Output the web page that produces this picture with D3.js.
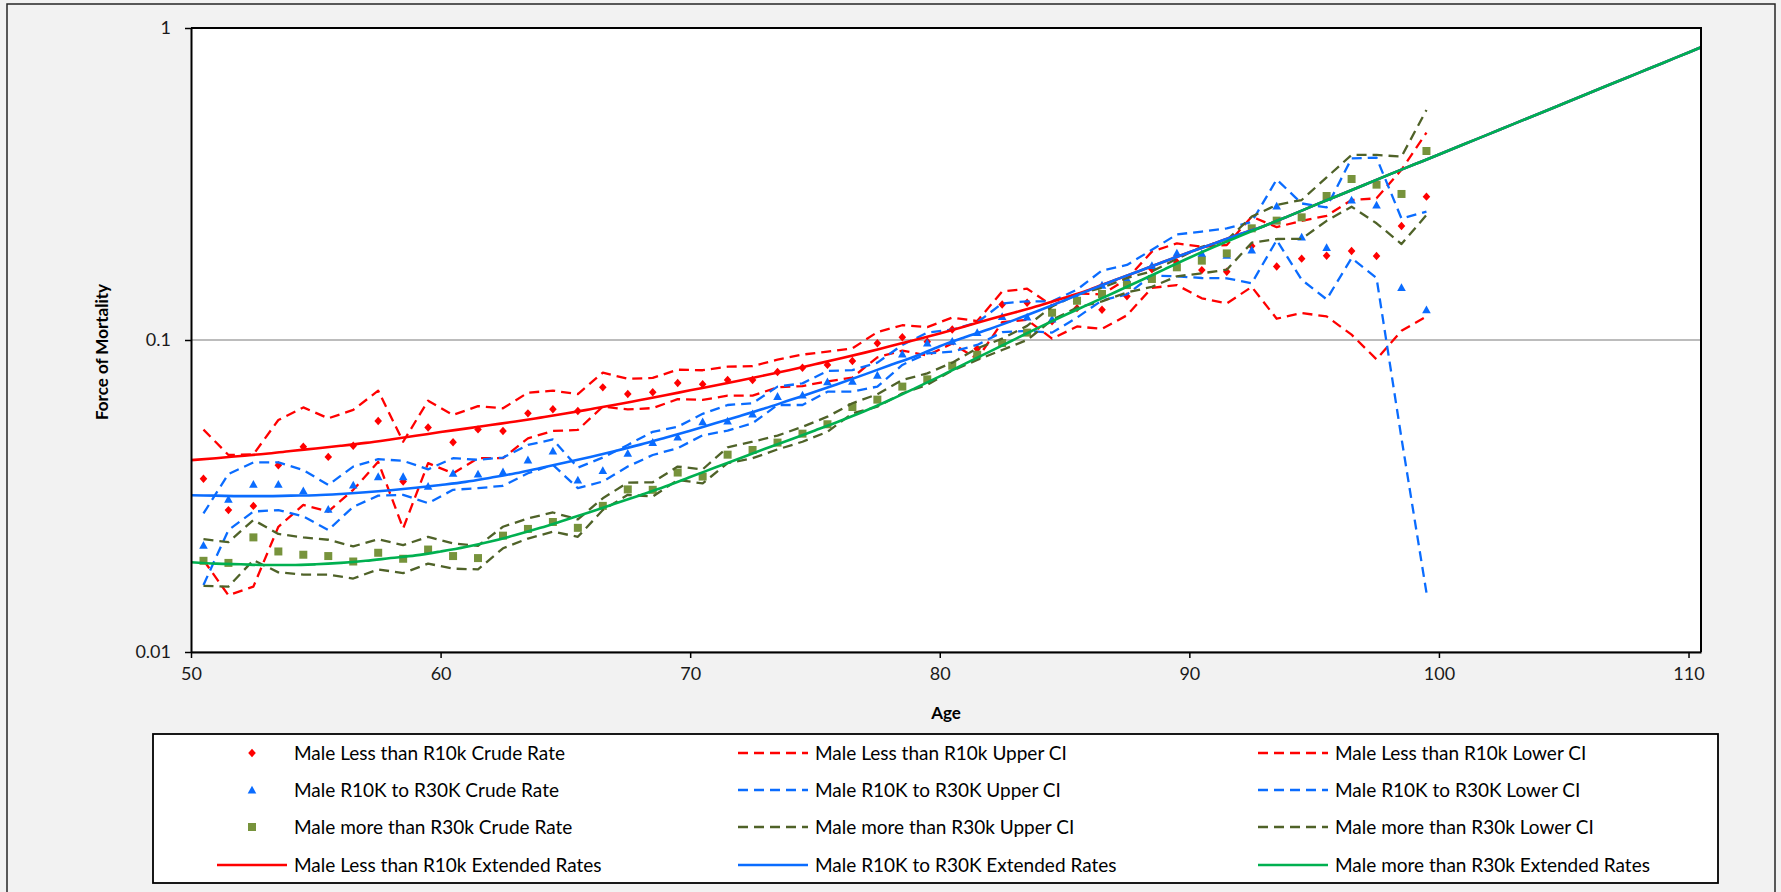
<!DOCTYPE html>
<html>
<head>
<meta charset="utf-8">
<script src="https://cdn.jsdelivr.net/npm/d3@7"></script>
<style>
  html, body { margin: 0; padding: 0; background: #f2f2f2; }
  svg { display: block; font-family: Lato, "Open Sans", sans-serif; }
</style>
</head>
<body>
<svg id="chart" width="1781" height="892"></svg>
<script>
// ---- Observed ages (mid-year of age) ----
const crudeAges = [50.5, 51.5, 52.5, 53.5, 54.5, 55.5, 56.5, 57.5, 58.5, 59.5,
  60.5, 61.5, 62.5, 63.5, 64.5, 65.5, 66.5, 67.5, 68.5, 69.5,
  70.5, 71.5, 72.5, 73.5, 74.5, 75.5, 76.5, 77.5, 78.5, 79.5,
  80.5, 81.5, 82.5, 83.5, 84.5, 85.5, 86.5, 87.5, 88.5, 89.5,
  90.5, 91.5, 92.5, 93.5, 94.5, 95.5, 96.5, 97.5, 98.5, 99.5];

// ---- Male, income less than R10k ----
const lowCrude = [0.0359, 0.0285, 0.0294, 0.0397, 0.0455, 0.0422, 0.0458, 0.0550, 0.0352, 0.0524,
  0.0470, 0.0517, 0.0511, 0.0582, 0.0600, 0.0592, 0.0705, 0.0671, 0.0680, 0.0728,
  0.0721, 0.0744, 0.0744, 0.0790, 0.0815, 0.0832, 0.0856, 0.0976, 0.1020, 0.0988,
  0.1080, 0.0937, 0.1300, 0.1317, 0.1148, 0.1265, 0.1250, 0.1380, 0.1685, 0.1775,
  0.1675, 0.1655, 0.2000, 0.1720, 0.1823, 0.1863, 0.1929, 0.1858, 0.2320, 0.2880];
const lowUpper = [0.0516, 0.0428, 0.0430, 0.0554, 0.0608, 0.0561, 0.0597, 0.0688, 0.0472, 0.0639,
  0.0575, 0.0614, 0.0604, 0.0678, 0.0688, 0.0671, 0.0786, 0.0751, 0.0756, 0.0803,
  0.0800, 0.0821, 0.0825, 0.0865, 0.0898, 0.0918, 0.0940, 0.1060, 0.1115, 0.1100,
  0.1180, 0.1150, 0.1430, 0.1460, 0.1290, 0.1410, 0.1400, 0.1570, 0.1920, 0.2040,
  0.1990, 0.2016, 0.2485, 0.2300, 0.2410, 0.2500, 0.2810, 0.2845, 0.3510, 0.4620];
const lowLower = [0.0197, 0.0152, 0.0162, 0.0252, 0.0296, 0.0282, 0.0331, 0.0407, 0.0249, 0.0403,
  0.0374, 0.0418, 0.0418, 0.0484, 0.0511, 0.0515, 0.0612, 0.0599, 0.0605, 0.0646,
  0.0643, 0.0663, 0.0663, 0.0705, 0.0712, 0.0737, 0.0758, 0.0880, 0.0925, 0.0892,
  0.0975, 0.0870, 0.1140, 0.1160, 0.1010, 0.1105, 0.1085, 0.1200, 0.1470, 0.1500,
  0.1360, 0.1310, 0.1480, 0.1170, 0.1220, 0.1190, 0.1040, 0.0867, 0.1070, 0.1190];

// ---- Male, income R10K to R30K ----
const midCrude = [0.0220, 0.0309, 0.0345, 0.0345, 0.0329, 0.0287, 0.0343, 0.0365, 0.0365, 0.0340,
  0.0374, 0.0372, 0.0378, 0.0413, 0.0441, 0.0356, 0.0382, 0.0434, 0.0470, 0.0489,
  0.0547, 0.0550, 0.0580, 0.0660, 0.0667, 0.0735, 0.0738, 0.0772, 0.0903, 0.0978,
  0.0992, 0.1058, 0.1190, 0.1185, 0.1168, 0.1360, 0.1500, 0.1570, 0.1735, 0.1900,
  0.1895, 0.1870, 0.1945, 0.2690, 0.2140, 0.1980, 0.2810, 0.2710, 0.1475, 0.1250];
const midUpper = [0.0278, 0.0372, 0.0405, 0.0405, 0.0383, 0.0343, 0.0393, 0.0415, 0.0410, 0.0385,
  0.0418, 0.0413, 0.0420, 0.0461, 0.0480, 0.0390, 0.0420, 0.0461, 0.0508, 0.0527,
  0.0580, 0.0619, 0.0627, 0.0709, 0.0726, 0.0796, 0.0801, 0.0846, 0.0964, 0.1056,
  0.1080, 0.1137, 0.1310, 0.1330, 0.1330, 0.1450, 0.1670, 0.1740, 0.1945, 0.2180,
  0.2225, 0.2280, 0.2390, 0.3270, 0.2740, 0.2660, 0.3820, 0.3840, 0.2450, 0.2580];
const midLower = [0.0164, 0.0246, 0.0282, 0.0285, 0.0272, 0.0246, 0.0292, 0.0317, 0.0319, 0.0300,
  0.0331, 0.0335, 0.0341, 0.0374, 0.0398, 0.0335, 0.0352, 0.0393, 0.0428, 0.0450,
  0.0495, 0.0512, 0.0541, 0.0619, 0.0619, 0.0683, 0.0683, 0.0709, 0.0832, 0.0906,
  0.0918, 0.0964, 0.1060, 0.1070, 0.1056, 0.1180, 0.1340, 0.1400, 0.1610, 0.1600,
  0.1580, 0.1577, 0.1520, 0.2090, 0.1560, 0.1350, 0.1830, 0.1580, 0.0484, 0.0155];

// ---- Male, income more than R30k ----
const highCrude = [0.0196, 0.0193, 0.0233, 0.0210, 0.0205, 0.0203, 0.0195, 0.0208, 0.0199, 0.0213,
  0.0203, 0.0200, 0.0236, 0.0248, 0.0261, 0.0250, 0.0294, 0.0332, 0.0331, 0.0376,
  0.0365, 0.0429, 0.0444, 0.0469, 0.0501, 0.0537, 0.0610, 0.0644, 0.0709, 0.0748,
  0.0827, 0.0897, 0.0978, 0.1056, 0.1223, 0.1336, 0.1404, 0.1500, 0.1569, 0.1710,
  0.1796, 0.1895, 0.2280, 0.2413, 0.2473, 0.2894, 0.3281, 0.3147, 0.2938, 0.4035];
const highUpper = [0.0230, 0.0225, 0.0265, 0.0239, 0.0233, 0.0229, 0.0218, 0.0230, 0.0220, 0.0234,
  0.0223, 0.0219, 0.0252, 0.0268, 0.0280, 0.0266, 0.0311, 0.0349, 0.0350, 0.0393,
  0.0385, 0.0453, 0.0472, 0.0494, 0.0527, 0.0568, 0.0627, 0.0670, 0.0744, 0.0782,
  0.0846, 0.0940, 0.1010, 0.1110, 0.1280, 0.1400, 0.1470, 0.1580, 0.1660, 0.1820,
  0.1990, 0.2090, 0.2485, 0.2710, 0.2810, 0.3320, 0.3920, 0.3920, 0.3870, 0.5460];
const highLower = [0.0163, 0.0162, 0.0197, 0.0180, 0.0177, 0.0177, 0.0172, 0.0184, 0.0179, 0.0192,
  0.0185, 0.0184, 0.0215, 0.0231, 0.0243, 0.0234, 0.0285, 0.0319, 0.0315, 0.0356,
  0.0347, 0.0403, 0.0418, 0.0446, 0.0472, 0.0508, 0.0582, 0.0611, 0.0675, 0.0718,
  0.0798, 0.0863, 0.0929, 0.1000, 0.1160, 0.1270, 0.1330, 0.1420, 0.1480, 0.1600,
  0.1636, 0.1680, 0.2050, 0.2107, 0.2110, 0.2410, 0.2675, 0.2366, 0.2030, 0.2515];

// ---- Extended (graduated) rates, ages 50 to 110.5 ----
const extAges = [50, 51, 52, 53, 54, 55, 56, 57, 58, 59,
  60, 61, 62, 63, 64, 65, 66, 67, 68, 69,
  70, 71, 72, 73, 74, 75, 76, 77, 78, 79,
  80, 81, 82, 83, 84, 85, 86, 87, 88, 89,
  90, 91, 92, 93, 94, 95, 96, 97, 98, 99,
  100, 101, 102, 103, 104, 105, 106, 107, 108, 109, 110, 110.5];
const lowExt = [0.0412, 0.0418, 0.0425, 0.0432, 0.0441, 0.0449, 0.0458, 0.0468, 0.0480, 0.0493,
  0.0507, 0.0520, 0.0534, 0.0548, 0.0564, 0.0581, 0.0600, 0.0620, 0.0642, 0.0665,
  0.0690, 0.0715, 0.0742, 0.0771, 0.0802, 0.0836, 0.0872, 0.0911, 0.0955, 0.1000,
  0.1050, 0.1105, 0.1165, 0.1225, 0.1290, 0.1365, 0.1450, 0.1555, 0.1665, 0.1785,
  0.1910, 0.2040, 0.2180, 0.2320, 0.2500, 0.2700, 0.2910, 0.3140, 0.3390, 0.3650,
  0.3930, 0.4240, 0.4570, 0.4930, 0.5310, 0.5730, 0.6180, 0.6660, 0.7180, 0.7740, 0.8350, 0.8670];
const midExt = [0.0318, 0.0317, 0.0316, 0.0316, 0.0317, 0.0318, 0.0321, 0.0325, 0.0330, 0.0336,
  0.0343, 0.0351, 0.0362, 0.0374, 0.0389, 0.0405, 0.0422, 0.0441, 0.0462, 0.0486,
  0.0512, 0.0541, 0.0571, 0.0604, 0.0642, 0.0682, 0.0727, 0.0776, 0.0830, 0.0885,
  0.0955, 0.1020, 0.1085, 0.1160, 0.1245, 0.1340, 0.1445, 0.1555, 0.1665, 0.1785,
  0.1910, 0.2040, 0.2180, 0.2320, 0.2500, 0.2700, 0.2910, 0.3140, 0.3390, 0.3650,
  0.3930, 0.4240, 0.4570, 0.4930, 0.5310, 0.5730, 0.6180, 0.6660, 0.7180, 0.7740, 0.8350, 0.8670];
const highExt = [0.0194, 0.0192, 0.0191, 0.0190, 0.0190, 0.0191, 0.0193, 0.0196, 0.0200, 0.0204,
  0.0210, 0.0217, 0.0226, 0.0237, 0.0250, 0.0265, 0.0281, 0.0299, 0.0318, 0.0339,
  0.0364, 0.0390, 0.0418, 0.0448, 0.0479, 0.0513, 0.0550, 0.0592, 0.0642, 0.0700,
  0.0765, 0.0838, 0.0918, 0.1005, 0.1100, 0.1200, 0.1305, 0.1420, 0.1545, 0.1685,
  0.1835, 0.1990, 0.2150, 0.2320, 0.2500, 0.2700, 0.2910, 0.3140, 0.3390, 0.3650,
  0.3930, 0.4240, 0.4570, 0.4930, 0.5310, 0.5730, 0.6180, 0.6660, 0.7180, 0.7740, 0.8350, 0.8670];

// ---- Axis ticks ----
const xTicks = [50, 60, 70, 80, 90, 100, 110];
const yTicks = [0.01, 0.1, 1];
const yTickLabels = ["0.01", "0.1", "1"];

// ---- Series, in drawing / legend order ----
const RED = "#ff0000", BLUE = "#0a6cff", OLIVE_DASH = "#4f6228",
      SQUARE = "#77933c", GREEN = "#00b050";
const series = [
  { name: "Male Less than R10k Crude Rate", ages: crudeAges, values: lowCrude, kind: "marker", shape: "diamond", color: RED },
  { name: "Male Less than R10k Upper CI", ages: crudeAges, values: lowUpper, kind: "dash", color: RED },
  { name: "Male Less than R10k Lower CI", ages: crudeAges, values: lowLower, kind: "dash", color: RED },
  { name: "Male R10K to R30K Crude Rate", ages: crudeAges, values: midCrude, kind: "marker", shape: "triangle", color: BLUE },
  { name: "Male R10K to R30K Upper CI", ages: crudeAges, values: midUpper, kind: "dash", color: BLUE },
  { name: "Male R10K to R30K Lower CI", ages: crudeAges, values: midLower, kind: "dash", color: BLUE },
  { name: "Male more than R30k Crude Rate", ages: crudeAges, values: highCrude, kind: "marker", shape: "square", color: SQUARE },
  { name: "Male more than R30k Upper CI", ages: crudeAges, values: highUpper, kind: "dash", color: OLIVE_DASH },
  { name: "Male more than R30k Lower CI", ages: crudeAges, values: highLower, kind: "dash", color: OLIVE_DASH },
  { name: "Male Less than R10k Extended Rates", ages: extAges, values: lowExt, kind: "solid", color: RED },
  { name: "Male R10K to R30K Extended Rates", ages: extAges, values: midExt, kind: "solid", color: BLUE },
  { name: "Male more than R30k Extended Rates", ages: extAges, values: highExt, kind: "solid", color: GREEN }
];

// ---- Layout ----
const W = 1781, H = 892;
const plot = { left: 191, right: 1701, top: 28, bottom: 652 };
const DASH = "10,6";

const svg = d3.select("#chart");

// chart area background and frame
svg.append("rect").attr("x", 0).attr("y", 0).attr("width", W).attr("height", H).attr("fill", "#f2f2f2");
svg.append("rect").attr("x", 7).attr("y", 4).attr("width", 1768).attr("height", H + 10)
  .attr("fill", "none").attr("stroke", "#262626").attr("stroke-width", 1.5);

// plot area
svg.append("rect").attr("x", plot.left).attr("y", plot.top)
  .attr("width", plot.right - plot.left).attr("height", plot.bottom - plot.top)
  .attr("fill", "#ffffff");

const x = d3.scaleLinear().domain([50, 110.5]).range([plot.left, plot.right]);
const y = d3.scaleLog().domain([0.01, 1]).range([plot.bottom, plot.top]);

// horizontal gridlines at the decades
svg.append("g").selectAll("line").data(yTicks).join("line")
  .attr("x1", plot.left).attr("x2", plot.right)
  .attr("y1", d => y(d)).attr("y2", d => y(d))
  .attr("stroke", "#a6a6a6").attr("stroke-width", 1.5);

// clip for the series
svg.append("clipPath").attr("id", "plotClip").append("rect")
  .attr("x", plot.left).attr("y", plot.top)
  .attr("width", plot.right - plot.left).attr("height", plot.bottom - plot.top);

const markerPath = {
  diamond: "M0,-4.2L3.8,0L0,4.2L-3.8,0Z",
  triangle: "M0,-4.2L4.3,3.6L-4.3,3.6Z",
  square: "M-4,-4H4V4H-4Z"
};

const line = d3.line().x(d => x(d[0])).y(d => y(d[1]));
const curve = d3.line().x(d => x(d[0])).y(d => y(d[1])).curve(d3.curveMonotoneX);

const layer = svg.append("g").attr("clip-path", "url(#plotClip)");
series.forEach(s => {
  const pts = s.ages.map((a, i) => [a, s.values[i]]);
  if (s.kind === "marker") {
    layer.append("g").selectAll("path").data(pts).join("path")
      .attr("d", markerPath[s.shape])
      .attr("transform", d => `translate(${x(d[0])},${y(d[1])})`)
      .attr("fill", s.color);
  } else if (s.kind === "dash") {
    layer.append("path").datum(pts).attr("d", line)
      .attr("fill", "none").attr("stroke", s.color).attr("stroke-width", 2.3)
      .attr("stroke-dasharray", DASH).attr("stroke-linejoin", "round");
  } else {
    layer.append("path").datum(pts).attr("d", curve)
      .attr("fill", "none").attr("stroke", s.color).attr("stroke-width", 2.6)
      .attr("stroke-linejoin", "round");
  }
});

// plot frame (top and right edges)
svg.append("path")
  .attr("d", `M${plot.left},${plot.top}H${plot.right}V${plot.bottom}`)
  .attr("fill", "none").attr("stroke", "#000").attr("stroke-width", 2);

// axes
const xAxis = d3.axisBottom(x).tickValues(xTicks).tickSize(6).tickSizeOuter(0).tickFormat(d3.format("d"));
const gx = svg.append("g").attr("transform", `translate(0,${plot.bottom})`).call(xAxis);
gx.select(".domain").attr("stroke", "#000").attr("stroke-width", 2);
gx.selectAll(".tick line").attr("stroke", "#000").attr("stroke-width", 1.5);
gx.selectAll(".tick text").attr("font-size", 18).attr("fill", "#1a1a1a")
  .attr("font-family", "Lato, 'Open Sans', sans-serif").attr("y", 15).attr("dy", "0.71em");

const yAxis = d3.axisLeft(y).tickValues(yTicks).tickSize(6).tickSizeOuter(0)
  .tickFormat((d, i) => yTickLabels[i]);
const gy = svg.append("g").attr("transform", `translate(${plot.left},0)`).call(yAxis);
gy.select(".domain").attr("stroke", "#000").attr("stroke-width", 2);
gy.selectAll(".tick line").attr("stroke", "#000").attr("stroke-width", 1.5);
gy.selectAll(".tick text").attr("font-size", 18).attr("fill", "#1a1a1a")
  .attr("font-family", "Lato, 'Open Sans', sans-serif").attr("x", -20);

// axis titles
svg.append("text").attr("x", (plot.left + plot.right) / 2).attr("y", 713)
  .attr("text-anchor", "middle").attr("dy", "0.35em")
  .attr("font-size", 17).attr("font-weight", "bold").attr("fill", "#000").text("Age");
svg.append("text").attr("transform", "translate(102,352) rotate(-90)")
  .attr("text-anchor", "middle").attr("dy", "0.35em")
  .attr("font-size", 17).attr("font-weight", "bold").attr("fill", "#000").text("Force of Mortality");

// legend
const legend = svg.append("g");
legend.append("rect").attr("x", 153).attr("y", 734).attr("width", 1565).attr("height", 149)
  .attr("fill", "#fff").attr("stroke", "#000").attr("stroke-width", 1.8);
const colText = [294, 815, 1335];
const rowY = [753, 790, 827, 865];
series.forEach((s, i) => {
  const col = s.kind === "solid" ? i - 9 : i % 3;
  const row = s.kind === "solid" ? 3 : Math.floor(i / 3);
  const tx = colText[col], ty = rowY[row];
  const g = legend.append("g");
  if (s.kind === "marker") {
    g.append("path").attr("d", markerPath[s.shape])
      .attr("transform", `translate(${tx - 42},${ty})`).attr("fill", s.color);
  } else {
    g.append("line").attr("x1", tx - 77).attr("x2", tx - 7).attr("y1", ty).attr("y2", ty)
      .attr("stroke", s.color).attr("stroke-width", s.kind === "solid" ? 2.6 : 2.3)
      .attr("stroke-dasharray", s.kind === "dash" ? DASH : null);
  }
  g.append("text").attr("x", tx).attr("y", ty).attr("dy", "0.35em")
    .attr("font-size", 19).attr("fill", "#000").text(s.name);
});
</script>
</body>
</html>
